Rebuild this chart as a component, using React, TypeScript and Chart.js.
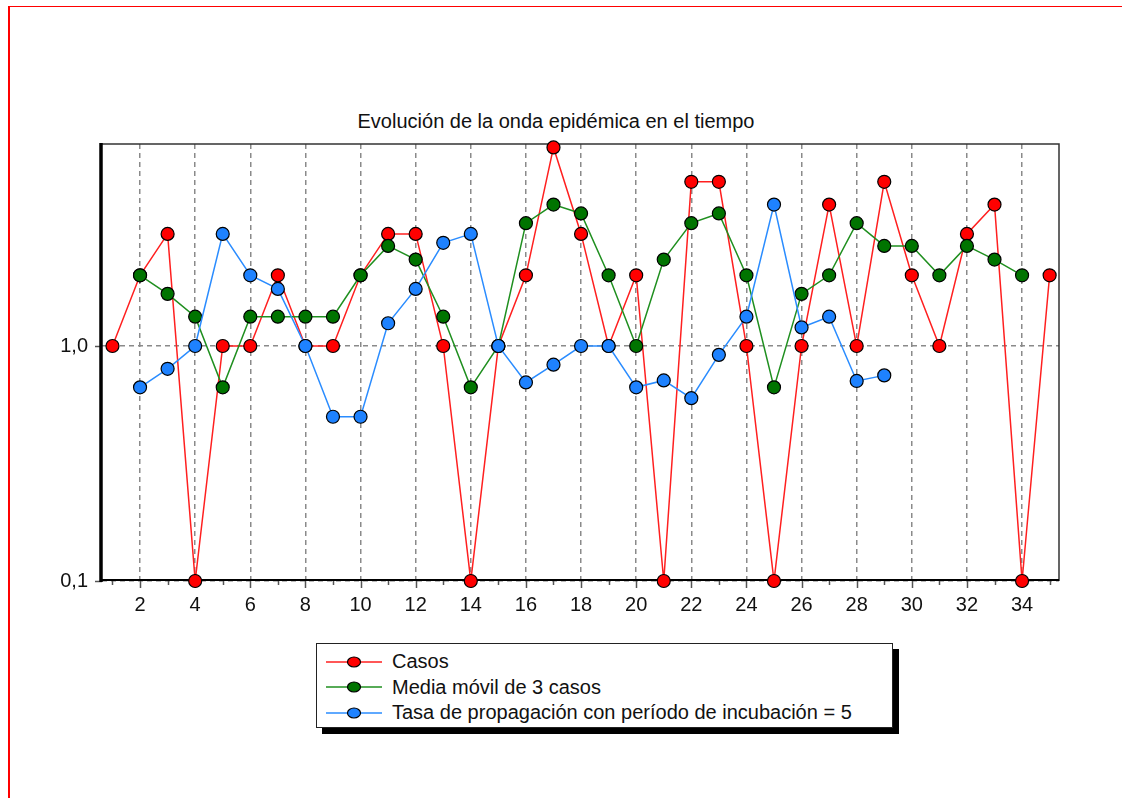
import React, { useEffect, useRef } from "react";
import { Chart, registerables } from "chart.js";

Chart.register(...registerables);

const TITLE = "Evolución de la onda epidémica en el tiempo";

const categories = [
  1, 2, 3, 4, 5, 6, 7, 8, 9, 10, 11, 12, 13, 14, 15, 16, 17, 18,
  19, 20, 21, 22, 23, 24, 25, 26, 27, 28, 29, 30, 31, 32, 33, 34, 35,
];

// Casos (0 is drawn at the bottom of the log axis, 0,1)
const casos = [
  1, 2, 3, 0, 1, 1, 2, 1, 1, 2, 3, 3, 1, 0, 1, 2, 7, 3,
  1, 2, 0, 5, 5, 1, 0, 1, 4, 1, 5, 2, 1, 3, 4, 0, 2,
];

const mediaMovil = [
  null, 2, 1.667, 1.333, 0.667, 1.333, 1.333, 1.333, 1.333, 2, 2.667, 2.333,
  1.333, 0.667, 1, 3.333, 4, 3.667, 2, 1, 2.333, 3.333, 3.667, 2, 0.667,
  1.667, 2, 3.333, 2.667, 2.667, 2, 2.667, 2.333, 2, null,
];

const tasaPropagacion = [
  null, 0.667, 0.8, 1, 3, 2, 1.75, 1, 0.5, 0.5, 1.25, 1.75, 2.75, 3, 1,
  0.7, 0.833, 1, 1, 0.667, 0.714, 0.6, 0.917, 1.333, 4, 1.2, 1.333, 0.71,
  0.75, null, null, null, null, null, null,
];

const seriesNames = [
  "Casos",
  "Media móvil de 3 casos",
  "Tasa de propagación con período de incubación = 5",
];

const yTickValues = [0.1, 1];
const Y_MIN = 0.1;
const Y_MAX = 7.24;
const X_MIN = 0.62;
const X_MAX = 35.34;

const lineColors = ["#ff1f1f", "#1f8f1f", "#2a8cff"];
const markerColors = ["#ff0000", "#007400", "#1e82ff"];

const FONT = "'Liberation Sans', Arial, sans-serif";

const framePlugin = {
  id: "frame",
  beforeDatasetsDraw(chart: any) {
    const { ctx, chartArea, scales } = chart;
    const { left, right, top, bottom } = chartArea;
    ctx.save();
    ctx.setLineDash([]);
    // x tick marks
    ctx.strokeStyle = "#555";
    ctx.lineWidth = 1.5;
    for (const c of categories) {
      const px = Math.round(scales.x.getPixelForValue(c)) + 0.5;
      const len = c % 2 === 0 ? 7 : 4;
      ctx.beginPath();
      ctx.moveTo(px, bottom);
      ctx.lineTo(px, bottom + len);
      ctx.stroke();
    }
    // y tick marks
    for (const v of yTickValues) {
      const py = Math.round(scales.y.getPixelForValue(v)) + 0.5;
      ctx.beginPath();
      ctx.moveTo(left - 7, py);
      ctx.lineTo(left, py);
      ctx.stroke();
    }
    // thin top/right frame
    ctx.strokeStyle = "#333";
    ctx.lineWidth = 1.5;
    ctx.beginPath();
    ctx.moveTo(left, top);
    ctx.lineTo(right, top);
    ctx.lineTo(right, bottom);
    ctx.stroke();
    // bottom axis
    ctx.strokeStyle = "#000";
    ctx.lineWidth = 2;
    ctx.beginPath();
    ctx.moveTo(left, bottom - 1);
    ctx.lineTo(right, bottom - 1);
    ctx.stroke();
    // thick left axis
    ctx.lineWidth = 3.5;
    ctx.beginPath();
    ctx.moveTo(left - 1, top - 1);
    ctx.lineTo(left - 1, bottom + 1);
    ctx.stroke();
    ctx.restore();
  },
};

function LegendIcon({ line, fill }: { line: string; fill: string }) {
  return (
    <svg width={58} height={14} style={{ display: "block" }}>
      <line x1={0} y1={7} x2={56} y2={7} stroke={line} strokeWidth={1.5} />
      <ellipse cx={28} cy={7} rx={6.5} ry={5} fill={fill} stroke="#000" strokeWidth={1.2} />
    </svg>
  );
}

export default function App() {
  const canvasRef = useRef<HTMLCanvasElement | null>(null);

  useEffect(() => {
    if (!canvasRef.current) return;
    const mk = (vals: (number | null)[], floor: boolean) =>
      categories.map((c, i) => {
        const v = vals[i];
        return { x: c, y: v === null ? null : floor ? Math.max(v, Y_MIN) : v };
      });

    const seriesData = [mk(casos, true), mk(mediaMovil, false), mk(tasaPropagacion, false)];

    const chart = new Chart(canvasRef.current, {
      type: "line",
      data: {
        datasets: seriesData.map((d, i) => ({
          label: seriesNames[i],
          data: d as any,
          borderColor: lineColors[i],
          backgroundColor: markerColors[i],
          pointBackgroundColor: markerColors[i],
          pointBorderColor: "#000",
          pointBorderWidth: 1.2,
          pointRadius: 6.5,
          borderWidth: 1.5,
          tension: 0,
          fill: false,
          spanGaps: false,
          clip: false as any,
          order: 3 - i,
        })),
      },
      options: {
        animation: false,
        responsive: false,
        events: [],
        layout: { padding: { top: 44, left: 0, right: 1122 - 1059, bottom: 0 } },
        plugins: {
          legend: { display: false },
          title: { display: false },
          tooltip: { enabled: false },
        },
        scales: {
          x: {
            type: "linear",
            min: X_MIN,
            max: X_MAX,
            afterFit(scale: any) {
              scale.height = 630 - 100 - 44 - 437;
            },
            ticks: {
              stepSize: 1,
              autoSkip: false,
              includeBounds: false,
              maxRotation: 0,
              padding: 12,
              color: "#111",
              font: { family: FONT, size: 20 },
              callback: (v: any) => (Number(v) % 2 === 0 ? String(v) : ""),
            },
            grid: {
              drawTicks: false,
              color: (ctx: any) =>
                ctx.tick && ctx.tick.value % 2 === 0 ? "#8a8a8a" : "rgba(0,0,0,0)",
              lineWidth: 1.5,
            },
            border: { display: false, dash: [5, 4] },
          },
          y: {
            type: "logarithmic",
            min: Y_MIN,
            max: Y_MAX,
            afterFit(scale: any) {
              scale.width = 102;
            },
            afterBuildTicks(scale: any) {
              scale.ticks = yTickValues.map((v) => ({ value: v }));
            },
            ticks: {
              padding: 14,
              color: "#111",
              font: { family: FONT, size: 20 },
              callback: (v: any) => Number(v).toFixed(1).replace(".", ","),
            },
            grid: {
              drawTicks: false,
              color: (ctx: any) =>
                ctx.tick && ctx.tick.value === 1 ? "#8a8a8a" : "#777",
              lineWidth: 1.5,
            },
            border: { display: false, dash: [5, 4] },
          },
        },
      },
      plugins: [framePlugin],
    });
    return () => chart.destroy();
  }, []);

  return (
    <div
      style={{
        position: "absolute",
        left: 0,
        top: 0,
        width: 1122,
        height: 798,
        overflow: "hidden",
        background: "#fff",
        fontFamily: FONT,
      }}
    >
      <div
        style={{
          position: "absolute",
          left: 8,
          top: 6,
          width: 1120,
          height: 800,
          borderTop: "1.5px solid #ff0000",
          borderLeft: "2px solid #ff0000",
          boxSizing: "border-box",
        }}
      />
      <div
        style={{
          position: "absolute",
          left: 0,
          top: 109,
          width: 1112,
          textAlign: "center",
          fontSize: 20,
          lineHeight: "24px",
          color: "#111",
        }}
      >
        {TITLE}
      </div>
      <canvas
        ref={canvasRef}
        width={1122}
        height={530}
        style={{ position: "absolute", left: 0, top: 100, width: 1122, height: 530 }}
      />
      <div
        style={{
          position: "absolute",
          left: 316,
          top: 643,
          width: 577,
          height: 85,
          boxSizing: "border-box",
          border: "1.5px solid #222",
          background: "#fff",
          boxShadow: "6px 6px 0 #000",
          paddingTop: 5,
          paddingLeft: 9,
        }}
      >
        {seriesNames.map((name, i) => (
          <div
            key={name}
            style={{
              display: "flex",
              alignItems: "center",
              height: 25.5,
              fontSize: 20,
              color: "#111",
              whiteSpace: "nowrap",
            }}
          >
            <LegendIcon line={lineColors[i]} fill={markerColors[i]} />
            <span style={{ marginLeft: 8 }}>{name}</span>
          </div>
        ))}
      </div>
    </div>
  );
}
